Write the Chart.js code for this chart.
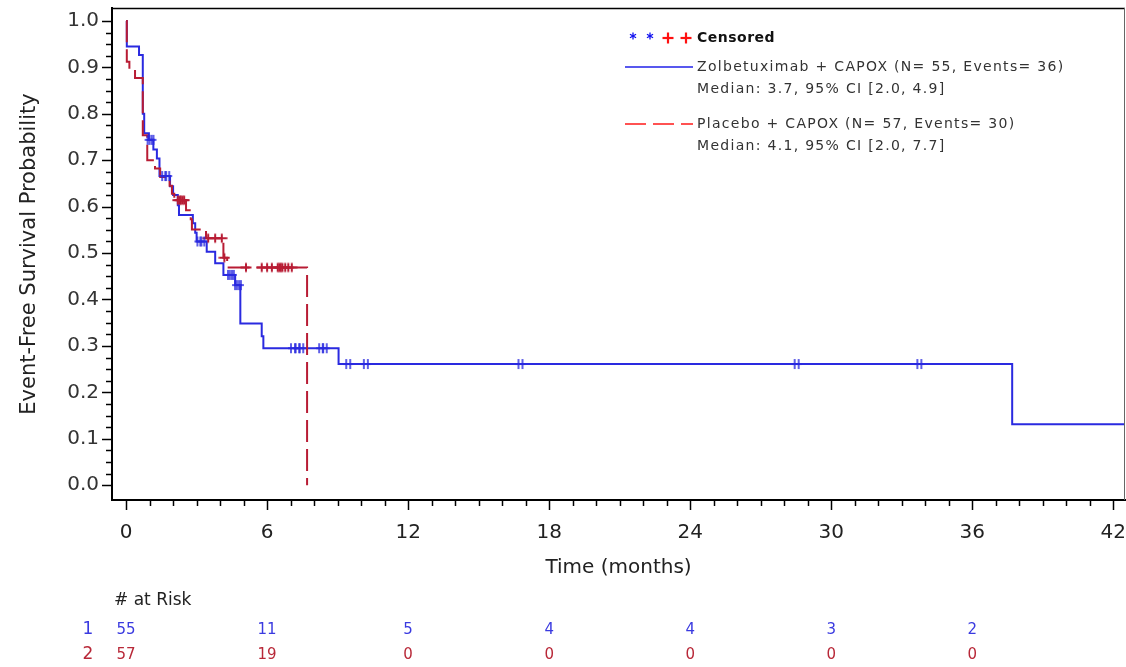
<!DOCTYPE html>
<html>
<head>
<meta charset="utf-8">
<title>Event-Free Survival</title>
<script src="https://cdn.jsdelivr.net/npm/chart.js"></script>
<style>
    html, body { margin: 0; padding: 0; background: #fff; }
    #wrap { width: 1126px; height: 667px; }
</style>
</head>
<body>
<div id="wrap"><canvas id="kmChart" width="1126" height="667"></canvas></div>
<script>
// Kaplan-Meier steps: time of each event (months) and survival after it
const zolbTime = [0, 0.03, 0.55, 0.71, 0.77, 0.97, 1.16, 1.31, 1.42, 1.87, 2.0, 2.2, 2.25, 2.84, 2.94, 3.0, 3.43, 3.79, 4.14, 4.64, 4.86, 5.77, 5.84, 9.04, 37.7, 43];
const zolbSurv = [1, 0.945, 0.927, 0.80, 0.758, 0.744, 0.723, 0.704, 0.666, 0.644, 0.625, 0.603, 0.582, 0.564, 0.544, 0.525, 0.503, 0.478, 0.453, 0.431, 0.348, 0.321, 0.295, 0.261, 0.131, 0.131];
const zolbCensor = [1.0, 1.08, 1.62, 1.75, 3.12, 3.24, 4.42, 4.5, 4.72, 4.8, 7.1, 7.3, 7.45, 8.3, 8.45, 9.45, 10.2, 16.78, 28.53, 33.75];

const placTime = [0, 0.03, 0.14, 0.38, 0.71, 0.9, 1.23, 1.45, 1.85, 1.95, 2.05, 2.55, 2.75, 2.8, 3.4, 4.14, 4.3, 7.7];
const placSurv = [1, 0.912, 0.895, 0.877, 0.754, 0.70, 0.682, 0.664, 0.645, 0.628, 0.614, 0.592, 0.573, 0.551, 0.532, 0.49, 0.469, 0];
const placCensor = [2.2, 2.28, 2.33, 2.4, 2.47, 3.49, 3.79, 4.07, 4.18, 5.1, 5.77, 6.0, 6.2, 6.45, 6.52, 6.58, 6.65, 6.77, 6.9, 7.05];

// number at risk table
const riskTimes = [0, 6, 12, 18, 24, 30, 36];
const zolbRisk = [55, 11, 5, 4, 4, 3, 2];
const placRisk = [57, 19, 0, 0, 0, 0, 0];

const xMajorStep = 6;
const xTickMonths = 42;
const yTickStep = 0.025;

const legendLines = {
    zolb: ['Zolbetuximab + CAPOX (N= 55, Events= 36)', 'Median: 3.7, 95% CI [2.0, 4.9]'],
    plac: ['Placebo + CAPOX (N= 57, Events= 30)', 'Median: 4.1, 95% CI [2.0, 7.7]']
};

const BLUE = '#2a2ae0';
const RED = '#b81c34';
const FONT = '"DejaVu Sans", sans-serif';

function survivalAt(times, surv, t) {
    let s = surv[0];
    for (let i = 0; i < times.length; i++) {
        if (times[i] <= t) s = surv[i];
        else break;
    }
    return s;
}

function toPoints(times, values) {
    return times.map((t, i) => ({ x: t, y: values[i] }));
}

function censorPoints(censor, times, surv) {
    return censor.map(t => ({ x: t, y: survivalAt(times, surv, t) }));
}

// small canvases used as point styles for censored observations
function makeCensorMark(color, doubled) {
    const c = document.createElement('canvas');
    c.width = 12;
    c.height = 12;
    const g = c.getContext('2d');
    g.strokeStyle = color;
    g.lineWidth = 1.5;
    g.beginPath();
    if (doubled) {
        g.moveTo(4, 1); g.lineTo(4, 11);
        g.moveTo(8, 1); g.lineTo(8, 11);
        g.moveTo(1, 6); g.lineTo(11, 6);
    } else {
        g.lineWidth = 2;
        g.moveTo(6, 1.5); g.lineTo(6, 10.5);
        g.moveTo(0.5, 6); g.lineTo(11.5, 6);
    }
    g.stroke();
    return c;
}

const blueMark = makeCensorMark(BLUE, true);
const redMark = makeCensorMark(RED, false);

function line(ctx, x1, y1, x2, y2) {
    ctx.beginPath();
    ctx.moveTo(x1, y1);
    ctx.lineTo(x2, y2);
    ctx.stroke();
}

function drawAsterisk(ctx, x, y, r) {
    for (let k = 0; k < 3; k++) {
        const a = Math.PI / 2 + k * Math.PI / 3;
        line(ctx, x - r * Math.cos(a), y - r * Math.sin(a), x + r * Math.cos(a), y + r * Math.sin(a));
    }
}

// frame, tick marks, legend box and at-risk table
const kmDecor = {
    id: 'kmDecor',
    afterDraw(chart) {
        const { ctx, chartArea: a, scales: { x, y } } = chart;
        ctx.save();

        ctx.strokeStyle = '#000';
        ctx.lineWidth = 1.5;
        line(ctx, a.left, a.top + 0.5, a.right, a.top + 0.5);
        ctx.strokeStyle = '#666';
        ctx.lineWidth = 1;
        line(ctx, a.right - 0.5, a.top, a.right - 0.5, a.bottom);

        ctx.strokeStyle = '#000';
        ctx.lineWidth = 1.5;
        x.ticks.forEach(t => {
            const px = Math.round(x.getPixelForValue(t.value)) + 0.5;
            const len = t.value % xMajorStep === 0 ? 10 : 6;
            line(ctx, px, a.bottom, px, a.bottom + len);
        });
        y.ticks.forEach((t, i) => {
            const py = Math.round(y.getPixelForValue(t.value)) + 0.5;
            const len = i % 4 === 0 ? 10 : 6;
            line(ctx, a.left - len, py, a.left, py);
        });

        // legend
        const lx = 625, tx = 697;
        ctx.strokeStyle = '#1010f0';
        ctx.lineWidth = 1.3;
        drawAsterisk(ctx, 633, 36, 3.5);
        drawAsterisk(ctx, 650, 36, 3.5);
        ctx.strokeStyle = '#ff1010';
        ctx.lineWidth = 2.2;
        [668, 686].forEach(cx => {
            line(ctx, cx - 5.5, 38, cx + 5.5, 38);
            line(ctx, cx, 32.5, cx, 43.5);
        });
        ctx.textBaseline = 'middle';
        ctx.textAlign = 'left';
        ctx.fillStyle = '#111';
        ctx.font = 'bold 14px ' + FONT;
        ctx.letterSpacing = '0.5px';
        ctx.fillText('Censored', tx, 38);

        ctx.lineWidth = 1.5;
        ctx.strokeStyle = '#2020e8';
        line(ctx, lx, 67, tx - 4, 67);
        ctx.strokeStyle = '#ff1a1a';
        ctx.setLineDash([21, 7]);
        line(ctx, lx, 124, tx - 4, 124);
        ctx.setLineDash([]);

        ctx.fillStyle = '#333';
        ctx.font = '14px ' + FONT;
        ctx.letterSpacing = '1.3px';
        ctx.fillText(legendLines.zolb[0], tx, 67);
        ctx.fillText(legendLines.zolb[1], tx, 89);
        ctx.fillText(legendLines.plac[0], tx, 124);
        ctx.fillText(legendLines.plac[1], tx, 146);
        ctx.letterSpacing = '0px';

        // number at risk
        ctx.fillStyle = '#222';
        ctx.font = '17px ' + FONT;
        ctx.fillText('# at Risk', 114, 601);
        ctx.textAlign = 'center';
        ctx.font = '17px ' + FONT;
        ctx.fillStyle = '#3a3ae0';
        ctx.fillText('1', 88, 630);
        ctx.fillStyle = '#b82838';
        ctx.fillText('2', 88, 655);
        ctx.font = '15px ' + FONT;
        riskTimes.forEach((t, i) => {
            const px = x.getPixelForValue(t);
            ctx.fillStyle = '#3a3ae0';
            ctx.fillText(String(zolbRisk[i]), px, 630);
            ctx.fillStyle = '#b82838';
            ctx.fillText(String(placRisk[i]), px, 655);
        });
        ctx.restore();
    }
};

const ctx = document.getElementById('kmChart').getContext('2d');

const kmChart = new Chart(ctx, {
    type: 'line',
    data: {
        datasets: [{
            label: 'Zolbetuximab censored',
            data: censorPoints(zolbCensor, zolbTime, zolbSurv),
            showLine: false,
            pointStyle: blueMark,
            pointRadius: 6,
            pointHoverRadius: 6,
            order: 0
        }, {
            label: 'Placebo censored',
            data: censorPoints(placCensor, placTime, placSurv),
            showLine: false,
            pointStyle: redMark,
            pointRadius: 6,
            pointHoverRadius: 6,
            order: 1
        }, {
            label: 'Placebo + CAPOX',
            data: toPoints(placTime, placSurv),
            stepped: 'before',
            borderColor: RED,
            borderWidth: 2,
            borderDash: [22, 7],
            pointRadius: 0,
            fill: false,
            order: 2
        }, {
            label: 'Zolbetuximab + CAPOX',
            data: toPoints(zolbTime, zolbSurv),
            stepped: 'before',
            borderColor: BLUE,
            borderWidth: 2,
            pointRadius: 0,
            fill: false,
            order: 3
        }]
    },
    options: {
        responsive: false,
        devicePixelRatio: 1,
        animation: false,
        events: [],
        layout: {
            autoPadding: false,
            padding: { top: 8, right: 1, bottom: 77, left: 0 }
        },
        plugins: {
            legend: { display: false },
            tooltip: { enabled: false }
        },
        scales: {
            x: {
                type: 'linear',
                min: -0.6,
                max: 42.5,
                grid: { display: false },
                border: { display: true, color: '#000', width: 2 },
                afterBuildTicks: scale => {
                    const ticks = [];
                    for (let m = 0; m <= xTickMonths; m++) ticks.push({ value: m });
                    scale.ticks = ticks;
                },
                afterFit: scale => {
                    scale.height = 90;
                    scale.paddingLeft = 0;
                    scale.paddingRight = 0;
                },
                ticks: {
                    autoSkip: false,
                    maxRotation: 0,
                    padding: 13,
                    color: '#222',
                    font: { family: FONT, size: 20 },
                    callback: value => (value % xMajorStep === 0 ? String(value) : '')
                },
                title: {
                    display: true,
                    text: 'Time (months)',
                    color: '#222',
                    font: { family: FONT, size: 20 },
                    padding: { top: 0, bottom: 10 }
                }
            },
            y: {
                min: -0.032,
                max: 1.028,
                grid: { display: false },
                border: { display: true, color: '#000', width: 2 },
                afterBuildTicks: scale => {
                    const ticks = [];
                    for (let i = 0; i <= 40; i++) ticks.push({ value: i * yTickStep });
                    scale.ticks = ticks;
                },
                afterFit: scale => {
                    scale.width = 112;
                    scale.paddingTop = 0;
                    scale.paddingBottom = 0;
                },
                ticks: {
                    autoSkip: false,
                    padding: 5,
                    color: '#333',
                    font: { family: FONT, size: 20 },
                    callback: (value, index) => (index % 4 === 0 ? (index / 40).toFixed(1) : '')
                },
                title: {
                    display: true,
                    text: 'Event-Free Survival Probability',
                    color: '#222',
                    font: { family: FONT, size: 21 },
                    padding: { top: 17, bottom: 0 }
                }
            }
        }
    },
    plugins: [kmDecor]
});
</script>
</body>
</html>
